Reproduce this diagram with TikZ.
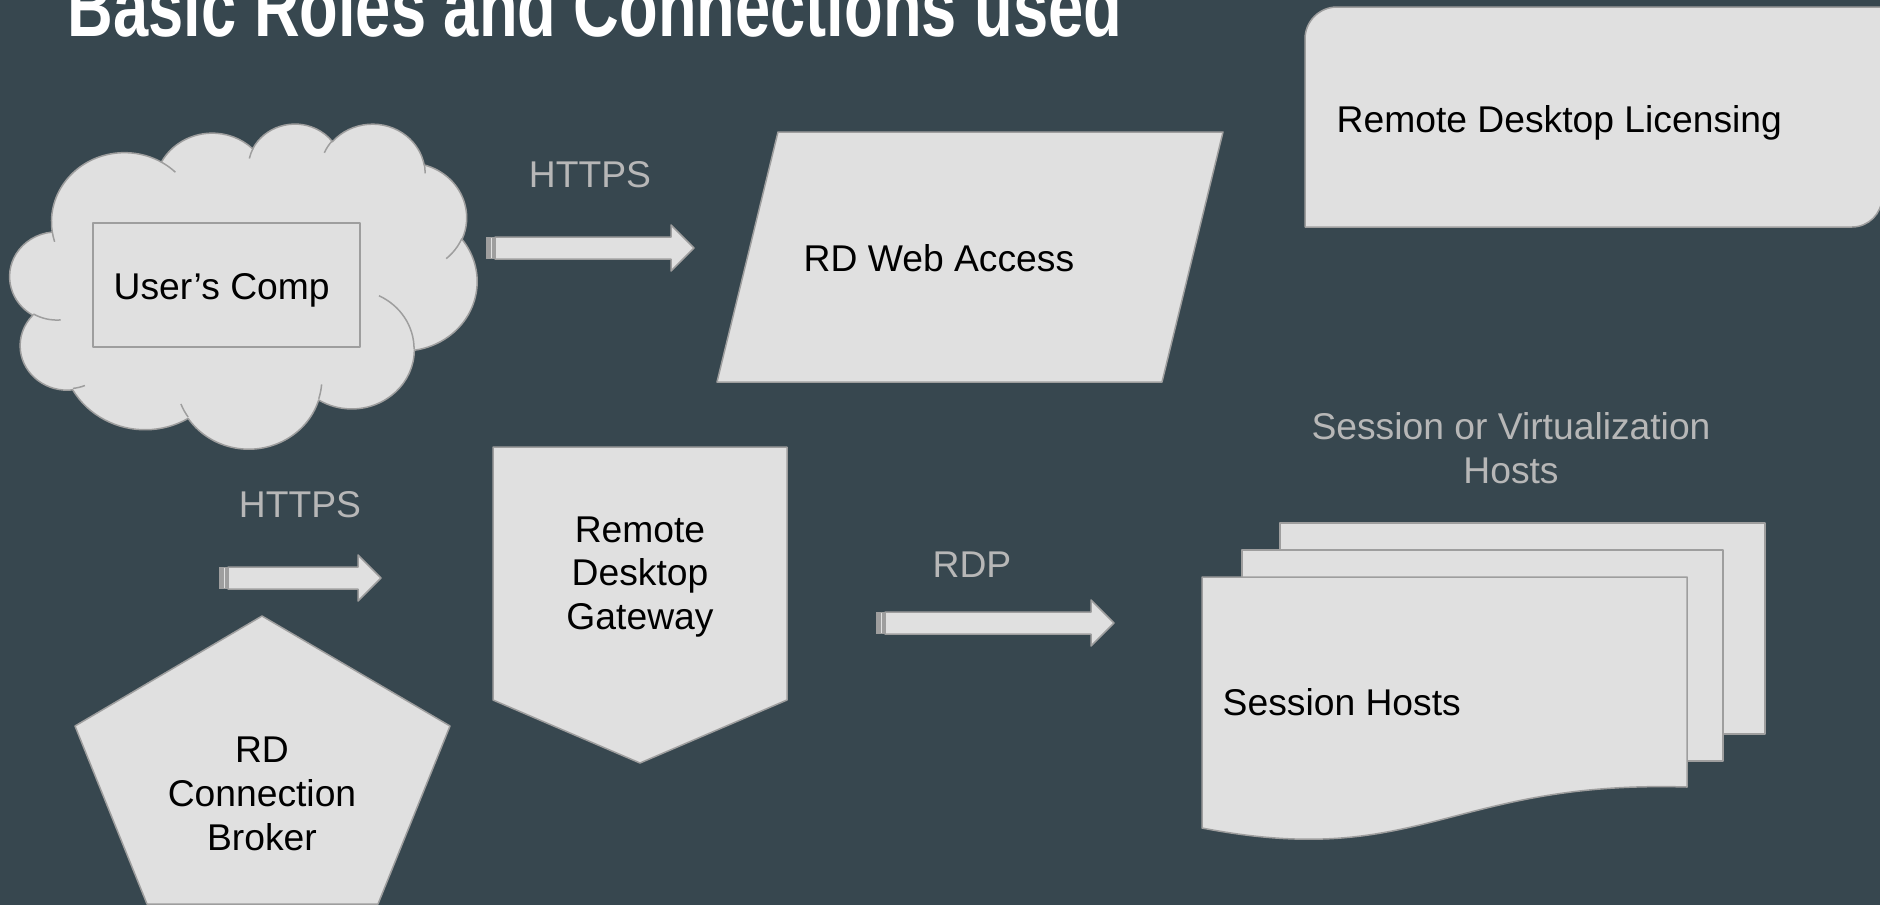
\documentclass[tikz,border=0pt]{standalone}
\usepackage{fontspec}
\setmainfont{Liberation Sans}
\newfontfamily\titlefont[FakeStretch=0.75]{Liberation Sans Bold}
\definecolor{slate}{HTML}{37474F}
\definecolor{shapefill}{HTML}{E0E0E0}
\definecolor{shapeline}{HTML}{9E9E9E}
\definecolor{labelgray}{HTML}{B7B7B7}

\tikzset{
  boxline/.style={draw=shapeline, fill=shapefill, line width=0.15mm, line join=round},
  crease/.style={draw=shapeline, line width=0.15mm},
  boxtext/.style={font=\fontsize{10.6}{12.5}\selectfont, text=black},
  linktext/.style={font=\fontsize{10.6}{12.5}\selectfont, text=labelgray}
}

% striped block arrow: tail x, middle y, tip x
\newcommand{\blockarrow}[3]{%
  \fill [shapeline] (#1,#2-11) rectangle (#1+9,#2+11);
  \draw [shapefill, line width=0.12mm] (#1+5.2,#2-10) -- (#1+5.2,#2+10);
  \draw [boxline] (#1+9,#2-11) -- (#3-23,#2-11) -- (#3-23,#2-23) -- (#3,#2)
    -- (#3-23,#2+23) -- (#3-23,#2+11) -- (#1+9,#2+11) -- cycle;
}

\begin{document}
\begin{tikzpicture}[x=0.1mm, y=-0.1mm]
        \tikzstyle{every node}+=[inner sep=0pt]
        \useasboundingbox (0,0) rectangle (1880,905);
        \fill [slate] (0,0) rectangle (1880,905);
        \clip (0,0) rectangle (1880,905);

        \node (title) [anchor=base west, text=white, font=\titlefont\fontsize{24}{28}\selectfont] at (67,36) {Basic Roles and Connections used};

        % cloud round the user's computer
        \begin{scope}[shift={(10,123)}, xscale=1.081, yscale=0.7523]
          \draw [boxline] (39.00,143.70)
            arc (172.25:300.36:67.53 and 91.90)
            arc (-152.00:-45.45:53.33 and 72.67)
            arc (-153.49:-37.31:43.65 and 59.45)
            arc (-139.72:-10.21:48.57 and 65.95)
            arc (-74.77:23.21:53.33 and 72.73)
            arc (-37.51:81.86:67.75 and 92.20)
            arc (0.46:121.98:57.85 and 78.67)
            arc (16.84:146.22:67.52 and 92.15)
            arc (58.98:150.20:77.20 and 105.43)
            arc (83.31:223.11:43.60 and 59.18)
            arc (120.35:264.11:43.45 and 59.45) -- cycle;
          \foreach \sx/\sy/\a/\b/\rx/\ry in {46.93/261.77/85.55/120.35/43.45/59.45,
              69.28/348.99/68.24/83.31/43.60/59.18, 164.78/390.90/146.22/158.47/67.52/92.15,
              288.27/347.51/4.74/16.84/67.52/92.15, 341.29/229.54/-64.03/0.46/57.85/78.67,
              417.98/153.54/23.21/49.64/53.33/72.73, 383.24/54.26/-10.21/0.82/48.57/65.95,
              290.78/39.52/-156.28/-139.72/48.57/65.95, 221.41/47.20/-167.73/-153.49/43.65/59.45,
              140.00/51.92/-59.64/-45.73/67.53/91.90, 41.27/157.89/163.20/172.25/67.53/91.90}
            \draw [crease] (\sx,\sy) arc [start angle=\a, end angle=\b, x radius=\rx, y radius=\ry];
        \end{scope}
        \draw [boxline] (93,223) rectangle (360,347);
        \node (comp) [boxtext, anchor=base west] at (113,299) {User’s Comp};

        % web access
        \draw [linktext] (590,187) node (https1) [anchor=base] {HTTPS};
        \blockarrow{486}{248}{694}
        \draw [boxline] (778,132) -- (1223,132) -- (1162,382) -- (717,382) -- cycle;
        \node (web) [boxtext, anchor=base west] at (803,271) {RD Web Access};

        % licensing
        \draw [boxline] (1305,227) -- (1305,39) arc (180:270:32) -- (1882,7) -- (1882,197) arc (0:90:30) -- cycle;
        \node (lic) [boxtext, anchor=base west] at (1336,132) {Remote Desktop Licensing};

        % gateway and broker
        \node (https2) [linktext, anchor=base] at (300,517) {HTTPS};
        \blockarrow{219}{578}{381}
        \draw [boxline] (493,447) -- (787,447) -- (787,700) -- (640,763) -- (493,700) -- cycle;
        \node (gateway) [boxtext, align=center] at (640,577) {Remote\\Desktop\\Gateway};
        \draw [boxline] (262,616) -- (450,726) -- (378,904) -- (147,904) -- (75,726) -- cycle;
        \node (broker) [boxtext, align=center] at (262,794) {RD\\Connection\\Broker};

        % session hosts
        \node (rdp) [linktext, anchor=base] at (972,577) {RDP};
        \blockarrow{876}{623}{1114}
        \node (hostlabel) [linktext, align=center] at (1511,448) {Session or Virtualization\\Hosts};
        \draw [boxline] (1280,523) rectangle (1765,734);
        \draw [boxline] (1242,550) rectangle (1723,761);
        \draw [boxline] (1202,577) -- (1687,577) -- (1687,787)
          .. controls (1450,780) and (1420,870) .. (1202,828) -- cycle;
        \node (hosts) [boxtext, anchor=base west] at (1222,715) {Session Hosts};
\end{tikzpicture}
\end{document}
